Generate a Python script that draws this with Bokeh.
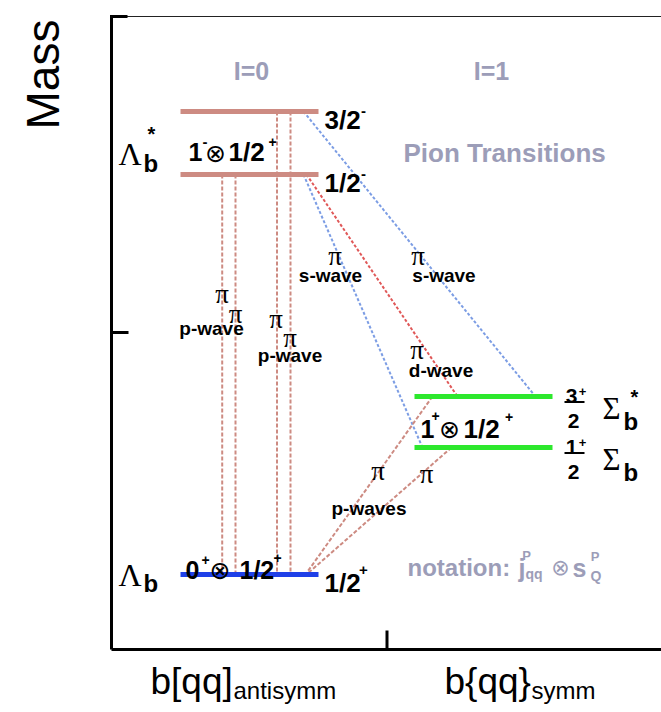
import math
from bokeh.plotting import figure
from bokeh.models import Range1d
from bokeh.core.properties import value
from bokeh.embed import file_html
from bokeh.resources import INLINE

# ---------------- data (schematic masses, arbitrary units above the frame bottom) ----------------
level_names = ["Lb(3/2-)", "Lb(1/2-)", "Sb*(3/2+)", "Sb(1/2+)", "Lb(1/2+)"]
level_mass = [538, 475, 253, 202, 75]
level_column = ["antisymm", "antisymm", "symm", "symm", "antisymm"]
level_spin = ["3/2", "1/2", "3/2", "1/2", "1/2"]
level_parity = ["-", "-", "+", "+", "+"]

trans_from = ["Lb(3/2-)", "Lb(1/2-)", "Lb(3/2-)", "Lb(1/2-)", "Lb(1/2-)", "Sb*(3/2+)", "Sb(1/2+)"]
trans_to = ["Lb(1/2+)", "Lb(1/2+)", "Sb*(3/2+)", "Sb(1/2+)", "Sb*(3/2+)", "Lb(1/2+)", "Lb(1/2+)"]
trans_wave = ["p", "p", "s", "s", "d", "p", "p"]

column_labels = ["b[qq]", "b{qq}"]
column_subs = ["antisymm", "symm"]
isospin_labels = ["I=0", "I=1"]

# ---------------- layout / style ----------------
SANS, SERIF, SYM = "Liberation Sans", "Liberation Serif", "DejaVu Sans"
ROSE, BLUE_LEVEL, GREEN = "#cd8b82", "#1f40e8", "#2de82d"
BLUE_DOT, RED_DOT, GRAY = "#7c9de4", "#e05858", "#9c9db8"
Y0 = 649.0  # picture row of the frame bottom
W, H = 661, 704


def ty(py):
    return Y0 - py


col_x = {"antisymm": (180, 318), "symm": (414, 552)}
level_color = {"Lb(3/2-)": ROSE, "Lb(1/2-)": ROSE, "Sb*(3/2+)": GREEN, "Sb(1/2+)": GREEN, "Lb(1/2+)": BLUE_LEVEL}
# x of each transition line at its "from" level and at its "to" level
trans_x_from = [[276.5, 290], [221.7, 235], [303], [303], [306], [432], [451]]
trans_x_to = [[276.5, 290], [221.7, 235], [535], [422], [457], [305], [306]]
wave_style = {"p": (ROSE, "4 2"), "s": (BLUE_DOT, "3 2"), "d": (RED_DOT, "3 2")}

mass = dict(zip(level_names, level_mass))

p = figure(width=W, height=H, x_range=Range1d(0, W), y_range=Range1d(Y0 - H, Y0),
           output_backend="svg", toolbar_location=None, min_border=0, outline_line_color=None)
p.xaxis.visible = False
p.yaxis.visible = False
p.xgrid.visible = False
p.ygrid.visible = False
p.background_fill_color = "white"


def T(x, y, s, size, font=SANS, style="bold", color="black", align="left", baseline="alphabetic", angle=0.0):
    p.text(x=[x], y=[y], text=[s], text_font=value(font), text_font_size=f"{size}px",
           text_font_style=style, text_color=color, text_align=align, text_baseline=baseline, angle=angle)


def sup(x, yc, s, size, color="black"):
    # place a small +/- sign so that its visual centre sits at data y = yc
    k = 0.33 if s == "+" else 0.27
    T(x, yc - k * size, s, size, color=color, align="center")


# ---------------- frame ----------------
p.segment(x0=[111], y0=[ty(14.5)], x1=[111], y1=[ty(649)], line_width=3, line_color="black")
p.segment(x0=[111], y0=[ty(649)], x1=[W], y1=[ty(649)], line_width=3, line_color="black")
p.segment(x0=[111], y0=[ty(16)], x1=[W], y1=[ty(16)], line_width=1, line_color="#222222")
p.segment(x0=[111], y0=[ty(16)], x1=[127], y1=[ty(16)], line_width=3, line_color="black")
p.segment(x0=[111], y0=[ty(332)], x1=[128], y1=[ty(332)], line_width=3, line_color="black")
p.segment(x0=[386.5], y0=[ty(649)], x1=[386.5], y1=[ty(630)], line_width=3, line_color="black")

# ---------------- transitions ----------------
for f, t, w, xf, xt in zip(trans_from, trans_to, trans_wave, trans_x_from, trans_x_to):
    color, dash = wave_style[w]
    p.segment(x0=xf, y0=[mass[f]] * len(xf), x1=xt, y1=[mass[t]] * len(xt),
              line_color=color, line_width=2, line_dash=dash)

# ---------------- levels ----------------
for n, m, c in zip(level_names, level_mass, level_column):
    x0, x1 = col_x[c]
    p.segment(x0=[x0], y0=[m], x1=[x1], y1=[m], line_color=level_color[n], line_width=5)

# ---------------- level labels ----------------
for n, m, c, s, par in zip(level_names, level_mass, level_column, level_spin, level_parity):
    if c == "antisymm":
        T(324, m - 8.5, s, 26)
        sup(363, m + (5 if par == "-" else 9.5), par, 15)
    else:
        num, den = s.split("/")
        T(571, m + 0.5, num, 21, align="center")
        sup(582, m + 9.5, par, 13)
        p.segment(x0=[564], y0=[m - 5.5], x1=[584], y1=[m - 5.5], line_color="black", line_width=2)
        T(573, m - 24, den, 21, align="center")
        T(602, m - 12, "Σ", 31, SERIF, "normal")
        T(623, m - 25, "b", 24)
        if n.startswith("Sb*"):
            T(634, m - 0.5, "*", 20, align="center")

# Lambda_b* label between the two excited Lambda_b levels
mid = (mass["Lb(3/2-)"] + mass["Lb(1/2-)"]) / 2
T(118, mid - 11, "Λ", 32, SERIF, "normal")
T(143, mid - 20, "b", 24)
T(151, mid + 8.6, "*", 20, align="center")
# Lambda_b ground
mg = mass["Lb(1/2+)"]
T(118, mg, "Λ", 32, SERIF, "normal")
T(143, mg - 9, "b", 24)

# composition labels
T(188, mid - 9, "1", 25)
sup(204.5, mid + 4.7, "-", 15)
T(215, mid - 10, "⊗", 25, SYM, "normal", align="center")
T(228, mid - 9, "1/2", 26)
sup(272, mid + 6, "+", 14)

ms = (mass["Sb*(3/2+)"] + mass["Sb(1/2+)"]) / 2
T(420, ms - 6.5, "1", 25)
sup(435, ms + 11, "+", 14)
T(449, ms - 7.5, "⊗", 25, SYM, "normal", align="center")
T(463, ms - 6.5, "1/2", 26)
sup(508.5, ms + 10, "+", 14)

T(185, mg + 4.7, "0", 25)
sup(205, mg + 19, "+", 14)
T(219.5, mg + 3.7, "⊗", 25, SYM, "normal", align="center")
T(239, mg + 4.7, "1/2", 25)
sup(277, mg + 21, "+", 14)

# ---------------- pion labels ----------------
pi_pos = [(221.5, 293), (235, 313), (275.5, 318), (289.5, 337), (334.5, 255),
          (417.5, 255), (416.5, 349), (377.5, 470), (426, 473)]
for x, y in pi_pos:
    T(x, ty(y), "π", 27, SERIF, "normal", align="center")
wave_labels = [("p-wave", 211, 328), ("p-wave", 289.5, 355), ("s-wave", 330, 275),
               ("s-wave", 443.5, 275), ("d-wave", 440.5, 370), ("p-waves", 368.5, 508)]
for s, x, y in wave_labels:
    T(x, ty(y), s, 19, align="center")

# ---------------- gray annotations ----------------
T(251, ty(70), isospin_labels[0], 25, color=GRAY, align="center")
T(491, ty(70), isospin_labels[1], 25, color=GRAY, align="center")
T(403, ty(152), "Pion Transitions", 26, color=GRAY)
T(407, ty(567), "notation:", 24, color=GRAY)
T(518, ty(567), "j", 25, color=GRAY)
T(526, ty(555), "P", 13, color=GRAY, align="center")
T(525, ty(573), "qq", 14, color=GRAY)
T(560, ty(567), "⊗", 22, SYM, "normal", color=GRAY, align="center")
T(572, ty(567), "s", 25, color=GRAY)
T(594.5, ty(556), "P", 13, color=GRAY, align="center")
T(590, ty(575), "Q", 14, color=GRAY)

# ---------------- axis titles ----------------
T(42, ty(74), "Mass", 46, SANS, "normal", align="center", angle=math.pi / 2)
T(150, ty(681), column_labels[0], 37, SANS, "normal")
T(233, ty(690), column_subs[0], 24, SANS, "normal")
T(444, ty(681), column_labels[1], 37, SANS, "normal")
T(531, ty(690), column_subs[1], 24, SANS, "normal")

open("out.html", "w").write(file_html(p, INLINE))
